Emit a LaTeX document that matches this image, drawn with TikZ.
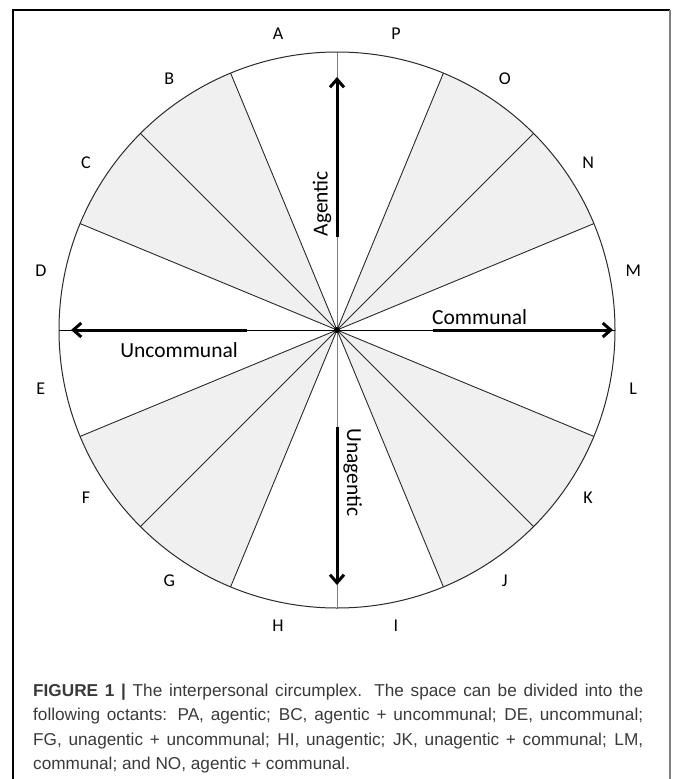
\documentclass[tikz,border=0pt]{standalone}
\usepackage{fontspec}
\setmainfont{Carlito}
\newfontfamily\capfont{Liberation Sans}
\usetikzlibrary{arrows.meta,calc}
\definecolor{sectfill}{HTML}{F0F0F0}
\definecolor{rimcol}{HTML}{2A2A2A}
\definecolor{captext}{HTML}{3A3A3A}
\tikzset{
  spoke/.style={draw=rimcol, line width=0.9pt},
  octlabel/.style={inner sep=0pt, font=\fontsize{18}{21}\selectfont},
  axisarrow/.style={line width=3pt, -{Straight Barb[length=8pt,width=14pt]}},
  axislabel/.style={inner sep=0pt, font=\fontsize{21.5}{25}\selectfont},
  capline/.style={anchor=base west, inner sep=0pt, text=captext, font=\capfont\fontsize{17.2}{20}\selectfont}
}
\begin{document}
\begin{tikzpicture}[x=1pt,y=-1pt]
\useasboundingbox (0,0) rectangle (672,779);
% frame
\draw[black, line width=1.2pt] (13,779) -- (13,10) -- (670,10);
\draw[gray, line width=1.8pt] (670,10) -- (670,779);
\coordinate (O) at (337,330);
% shaded sectors
\foreach \a in {22.5,112.5,202.5,292.5}{
  \fill[sectfill] (O) -- ++(-\a:278) arc[start angle=-\a, end angle=-\a-45, radius=278] -- cycle;
}
% spokes
\foreach \a in {22.5,45,67.5,112.5,135,157.5,202.5,225,247.5,292.5,315,337.5}{
  \draw[spoke] (O) -- ++(-\a:278);
}
\draw[spoke, draw=black] (O) -- ++(0:278);
\draw[spoke, draw=black] (O) -- ++(180:278);
\draw[spoke, draw=gray] (O) -- ++(90:278);
\draw[spoke, draw=gray] (O) -- ++(-90:278);
\draw[draw=rimcol, line width=1pt] (O) circle[radius=278];
\fill[black] (O) circle[radius=3];
% octant letters
\foreach \l [count=\i] in {M,N,O,P,A,B,C,D,E,F,G,H,I,J,K,L}{
  \pgfmathsetmacro{\ang}{11.25+22.5*(\i-1)}
  \node[octlabel] (lab\l) at ($(O)+(-\ang:302)$) {\l};
}
% axis arrows
\coordinate (ag0) at (337,236.5); \coordinate (ag1) at (337,77);
\coordinate (ua0) at (337,427); \coordinate (ua1) at (337,585);
\coordinate (co0) at (433,330); \coordinate (co1) at (613,330);
\coordinate (un0) at (247,330); \coordinate (un1) at (71,330);
\draw[axisarrow] (ag0) -- (ag1);
\draw[axisarrow] (ua0) -- (ua1);
\draw[axisarrow] (co0) -- (co1);
\draw[axisarrow] (un0) -- (un1);
\node[axislabel, rotate=90, anchor=base west] (agtxt) at (327.5,236.5) {Agentic};
\node[axislabel, rotate=-90, anchor=base west] (uatxt) at (347,428) {Unagentic};
\node[axislabel, anchor=base west] (cotxt) at (432,324.7) {Communal};
\node[axislabel, anchor=base east] (untxt) at (238,357) {Uncommunal};
% caption
\node[capline] (cap1) at (33,696) {\makebox[610pt][s]{\textbf{FIGURE 1 |} The interpersonal circumplex. The space can be divided into the}};
\node[capline] (cap2) at (33,720.5) {\makebox[610pt][s]{following octants: PA, agentic; BC, agentic + uncommunal; DE, uncommunal;}};
\node[capline] (cap3) at (33,745) {\makebox[610pt][s]{FG, unagentic + uncommunal; HI, unagentic; JK, unagentic + communal; LM,}};
\node[capline] (cap4) at (33,769.5) {communal; and NO, agentic + communal.};
\end{tikzpicture}
\end{document}
